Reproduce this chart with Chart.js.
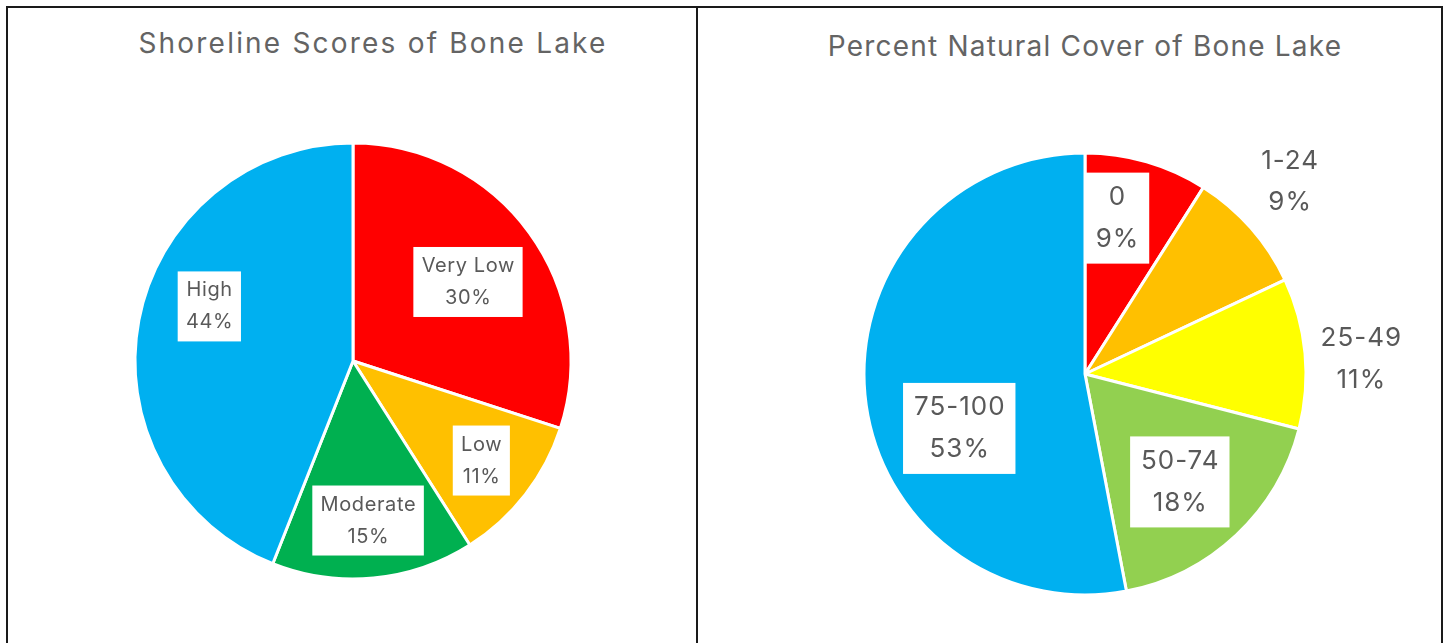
<!DOCTYPE html>
<html>
<head>
<meta charset="utf-8">
<script src="https://cdn.jsdelivr.net/npm/chart.js"></script>
<style>
body { margin:0; background:#fff; font-family: Inter, "Noto Sans", sans-serif; }
#frame { position:absolute; left:6px; top:6px; width:1433px; height:700px; border:2px solid #1a1a1a; }
#divider { position:absolute; left:696px; top:6px; width:2px; height:700px; background:#1a1a1a; }
.title { position:absolute; color:#646464; font-size:28px; white-space:nowrap; transform:translateX(-50%); }
canvas { position:absolute; }
</style>
</head>
<body>
<div id="frame"></div>
<div id="divider"></div>
<div class="title" style="left:373px; top:26px; letter-spacing:2.2px;">Shoreline Scores of Bone Lake</div>
<div class="title" style="left:1085px; top:29px; letter-spacing:1.2px;">Percent Natural Cover of Bone Lake</div>
<canvas id="left" width="688" height="635" style="left:8px; top:8px;"></canvas>
<canvas id="right" width="740" height="635" style="left:699px; top:8px;"></canvas>

<script>
// ===== DATA =====
const shoreLabels = ["Very Low", "Low", "Moderate", "High"];
const shoreValues = [30, 11, 15, 44];
const shoreColors = ["#FF0000", "#FFC000", "#00B050", "#00B0F0"];

const coverLabels = ["0", "1-24", "25-49", "50-74", "75-100"];
const coverValues = [9, 9, 11, 18, 53];
const coverColors = ["#FF0000", "#FFC000", "#FFFF00", "#92D050", "#00B0F0"];

// label placement: [radius fraction, angle tweak in degrees, white box]
const shorePlace = [[0.64, 1.5, true], [0.745, 0, true], [0.735, 0, true], [0.705, 10, true]];
const coverPlace = [[0.72, -4.6, true], [1.27, -1.8, false], [1.25, 2.3, false], [0.65, 1.9, true], [0.62, -18, true]];

const pieLabels = {
  id: "pieLabels",
  afterDatasetsDraw(chart, args, opts) {
    const ctx = chart.ctx;
    const meta = chart.getDatasetMeta(0);
    const total = chart.data.datasets[0].data.reduce((a, b) => a + b, 0);
    ctx.save();
    ctx.font = opts.size + "px Inter, 'Noto Sans', sans-serif";
    ctx.letterSpacing = opts.spacing + "px";
    ctx.textAlign = "center";
    ctx.textBaseline = "middle";
    meta.data.forEach((arc, i) => {
      const p = opts.place[i];
      const mid = (arc.startAngle + arc.endAngle) / 2 + p[1] * Math.PI / 180;
      const r = arc.outerRadius * p[0];
      const x = arc.x + Math.cos(mid) * r;
      const y = arc.y + Math.sin(mid) * r;
      const val = chart.data.datasets[0].data[i];
      const lines = [chart.data.labels[i], Math.round(val / total * 100) + "%"];
      const lh = opts.size * 1.6;
      if (p[2]) {
        const w = Math.max(...lines.map(t => ctx.measureText(t).width)) + opts.size * 0.8;
        const h = lh * 2 + opts.size * 0.3;
        ctx.fillStyle = "#fff";
        ctx.fillRect(x - w / 2, y - h / 2, w, h);
      }
      ctx.fillStyle = "#595959";
      // shift by half the trailing letter spacing so text stays centred
      ctx.fillText(lines[0], x + opts.spacing / 2, y - lh / 2);
      ctx.fillText(lines[1], x + opts.spacing / 2, y + lh / 2);
    });
    ctx.restore();
  }
};

function makePie(id, labels, values, colors, place, size, spacing, cx, cy, R) {
  const c = document.getElementById(id);
  const W = c.width, H = c.height;
  const half = R + 10;
  new Chart(c, {
    type: "pie",
    data: { labels: labels, datasets: [{ data: values, backgroundColor: colors, borderColor: "#fff", borderWidth: 3, hoverOffset: 0 }] },
    options: {
      responsive: false,
      animation: false,
      events: [],
      radius: R,
      layout: { padding: { left: cx - half, right: W - cx - half, top: cy - half, bottom: H - cy - half } },
      plugins: {
        legend: { display: false },
        tooltip: { enabled: false },
        pieLabels: { place: place, size: size, spacing: spacing }
      }
    },
    plugins: [pieLabels]
  });
}

makePie("left", shoreLabels, shoreValues, shoreColors, shorePlace, 20, 0.6, 345, 353, 218);
makePie("right", coverLabels, coverValues, coverColors, coverPlace, 26, 1, 386, 366, 221);
</script>
</body>
</html>
